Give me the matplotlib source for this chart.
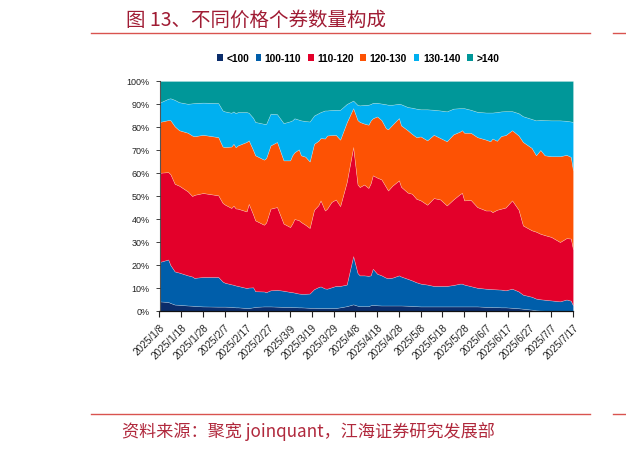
import matplotlib
matplotlib.use("Agg")
import matplotlib.pyplot as plt
from matplotlib.lines import Line2D
from matplotlib.ticker import FuncFormatter, MultipleLocator
import pandas as pd

# ---------------- data (share of bonds, %) ----------------
dates = ["2025-01-08", "2025-01-12", "2025-01-13", "2025-01-15", "2025-01-17", "2025-01-21",
         "2025-01-23", "2025-01-24", "2025-01-28", "2025-02-04", "2025-02-06", "2025-02-07",
         "2025-02-10", "2025-02-11", "2025-02-12", "2025-02-13", "2025-02-17", "2025-02-18",
         "2025-02-20", "2025-02-21", "2025-02-25", "2025-02-26", "2025-02-28", "2025-03-03",
         "2025-03-06", "2025-03-09", "2025-03-10", "2025-03-11", "2025-03-13", "2025-03-14",
         "2025-03-16", "2025-03-18", "2025-03-20", "2025-03-22", "2025-03-23", "2025-03-25",
         "2025-03-26", "2025-03-28", "2025-03-30", "2025-04-01", "2025-04-04", "2025-04-07",
         "2025-04-09", "2025-04-10", "2025-04-12", "2025-04-14", "2025-04-15", "2025-04-16",
         "2025-04-18", "2025-04-20", "2025-04-22", "2025-04-23", "2025-04-25", "2025-04-28",
         "2025-04-29", "2025-05-02", "2025-05-04", "2025-05-06", "2025-05-08", "2025-05-11",
         "2025-05-14", "2025-05-17", "2025-05-20", "2025-05-23", "2025-05-26", "2025-05-27",
         "2025-05-28", "2025-05-31", "2025-06-03", "2025-06-07", "2025-06-09", "2025-06-10",
         "2025-06-12", "2025-06-14", "2025-06-16", "2025-06-19", "2025-06-22", "2025-06-24",
         "2025-06-28", "2025-06-30", "2025-07-02", "2025-07-04", "2025-07-07", "2025-07-11",
         "2025-07-14", "2025-07-16", "2025-07-17"]

s_lt100 = [4.2, 3.9, 3.5, 2.8, 2.7, 2.4, 2.3, 2.2, 2.0, 1.9, 1.9, 1.9, 1.8, 1.7, 1.6, 1.6,
           1.3, 1.3, 1.6, 1.8, 2.0, 2.0, 2.0, 1.9, 1.8, 1.8, 1.7, 1.7, 1.6, 1.6, 1.5, 1.4,
           1.4, 1.3, 1.3, 1.3, 1.3, 1.3, 1.3, 1.6, 2.1, 2.9, 2.3, 2.1, 2.1, 2.1, 2.5, 2.7,
           2.5, 2.4, 2.4, 2.4, 2.4, 2.4, 2.4, 2.3, 2.2, 2.1, 2.0, 2.0, 2.0, 2.0, 2.0, 2.0,
           2.0, 2.0, 2.0, 2.0, 2.0, 1.8, 1.8, 1.7, 1.7, 1.6, 1.6, 1.4, 1.2, 1.0, 0.6, 0.3,
           0.2, 0.1, 0.0, 0.0, 0.0, 0.0, 0.0]
s_100_110 = [17.1, 18.5, 16.5, 14.4, 14.0, 13.1, 12.7, 12.2, 12.8, 12.9, 10.9, 10.4, 9.8, 9.7,
             9.5, 9.3, 8.7, 8.9, 8.7, 6.8, 6.5, 6.2, 7.0, 7.3, 7.0, 6.5, 6.5, 6.3, 6.0, 5.9,
             6.0, 6.2, 8.1, 9.1, 9.4, 8.5, 8.4, 9.0, 9.6, 9.3, 9.4, 21.0, 14.2, 13.4, 13.4,
             13.2, 13.0, 15.7, 13.7, 13.1, 12.1, 11.9, 12.1, 13.1, 12.6, 11.7, 11.1, 10.4,
             9.9, 9.5, 8.9, 8.9, 8.9, 9.3, 9.9, 9.9, 9.5, 8.8, 8.1, 7.9, 7.8, 7.8, 7.7, 7.7,
             7.4, 8.3, 7.3, 6.1, 5.6, 5.1, 4.9, 4.8, 4.6, 4.2, 5.0, 4.5, 2.4]
s_110_120 = [38.8, 38.0, 39.5, 38.1, 37.8, 36.5, 35.0, 36.1, 36.5, 35.5, 34.2, 34.0, 33.2, 34.4,
             33.5, 33.6, 33.3, 36.4, 31.7, 30.8, 29.0, 30.3, 35.5, 36.0, 29.2, 28.2, 29.8,
             32.0, 31.9, 31.2, 30.0, 28.5, 34.5, 35.6, 37.4, 33.9, 34.8, 37.1, 37.6, 34.7,
             44.5, 47.4, 38.5, 38.4, 39.5, 38.2, 40.0, 40.6, 41.8, 41.7, 39.5, 38.1, 40.0,
             41.3, 39.0, 37.5, 37.7, 36.3, 36.2, 34.7, 38.2, 37.6, 35.0, 37.2, 38.9, 39.5,
             36.6, 37.5, 35.1, 34.0, 34.1, 33.5, 34.6, 35.2, 36.0, 38.4, 35.5, 30.1, 28.9,
             29.1, 28.5, 28.1, 27.6, 25.8, 26.7, 27.0, 24.4]
s_120_130 = [22.1, 22.6, 23.5, 25.0, 24.1, 25.5, 26.3, 25.5, 25.3, 25.3, 24.5, 25.0, 26.7, 26.9,
             26.6, 27.5, 30.2, 27.6, 28.0, 28.3, 28.3, 28.0, 27.5, 28.3, 27.5, 29.0, 29.7,
             29.0, 30.8, 29.0, 29.6, 28.9, 28.7, 28.0, 27.1, 31.3, 31.8, 29.1, 28.1, 28.9,
             26.0, 16.9, 28.0, 28.3, 26.5, 27.5, 27.3, 24.8, 26.6, 25.8, 25.5, 26.6, 26.5,
             27.1, 26.7, 27.1, 26.0, 26.8, 27.8, 28.0, 27.5, 26.7, 27.9, 28.3, 27.2, 27.2,
             29.4, 29.2, 30.4, 30.8, 30.1, 32.0, 30.0, 31.6, 31.5, 30.5, 32.3, 36.3, 35.8,
             33.2, 36.4, 34.7, 35.1, 37.3, 36.2, 35.5, 34.3]
s_130_140 = [8.4, 9.3, 9.5, 11.5, 12.2, 12.6, 14.0, 14.4, 14.0, 14.8, 15.7, 15.5, 14.7, 14.1,
             14.8, 14.5, 13.0, 12.0, 14.0, 14.5, 15.6, 14.9, 13.8, 12.1, 16.2, 17.0, 15.2,
             14.8, 12.9, 15.2, 15.5, 17.4, 12.3, 12.0, 11.3, 12.2, 10.9, 10.9, 10.9, 13.0,
             8.0, 3.3, 6.6, 7.2, 8.1, 8.7, 7.2, 6.7, 5.9, 7.2, 10.4, 10.7, 8.7, 6.2, 9.2,
             10.1, 11.4, 12.4, 11.8, 13.5, 10.9, 12.0, 13.0, 11.2, 10.2, 9.6, 10.7, 10.0,
             11.0, 11.8, 12.5, 11.3, 12.5, 10.7, 10.4, 8.3, 9.7, 11.2, 12.6, 15.2, 13.1,
             15.3, 15.6, 15.6, 14.8, 15.4, 21.1]
s_gt140 = [9.4, 7.7, 7.5, 8.2, 9.2, 9.9, 9.7, 9.6, 9.4, 9.6, 12.8, 13.2, 13.8, 13.2, 14.0,
           13.5, 13.5, 13.8, 16.0, 17.8, 18.6, 18.6, 14.2, 14.4, 18.3, 17.5, 17.1, 16.2,
           16.8, 17.1, 17.4, 17.6, 15.0, 14.0, 13.5, 12.8, 12.8, 12.6, 12.5, 12.5, 10.0,
           8.5, 10.4, 10.6, 10.4, 10.3, 10.0, 9.5, 9.5, 9.8, 10.1, 10.3, 10.3, 9.9, 10.1,
           11.3, 11.6, 12.0, 12.3, 12.3, 12.5, 12.8, 13.2, 12.0, 11.8, 11.8, 11.8, 12.5,
           13.4, 13.7, 13.7, 13.7, 13.5, 13.2, 13.1, 13.1, 14.0, 15.3, 16.5, 17.1, 16.9,
           17.0, 17.1, 17.1, 17.3, 17.6, 17.8]

labels = ["<100", "100-110", "110-120", "120-130", "130-140", ">140"]
colors = ["#0b2d6b", "#005eaa", "#e3002a", "#fd5204", "#00b0f0", "#009799"]

title_text = "图 13、不同价格个券数量构成"
source_text = "资料来源：聚宽 joinquant，江海证券研究发展部"
tick_start = "2025-01-08"
tick_end = "2025-07-17"

# ---------------- figure ----------------
W, H = 626, 452
fig = plt.figure(figsize=(W / 100, H / 100), dpi=100)
fig.patch.set_facecolor("white")

ax = fig.add_axes([159.5 / W, 1 - 312 / H, (573 - 159.5) / W, (312 - 82) / H])

x = pd.to_datetime(dates)
series = [s_lt100, s_100_110, s_110_120, s_120_130, s_130_140, s_gt140]
polys = ax.stackplot(x, *series, colors=colors, labels=labels,
                     edgecolor=(1, 1, 1, 0.35), linewidth=0.4)

ax.set_xlim(pd.Timestamp(tick_start), pd.Timestamp(tick_end))
ax.set_ylim(0, 100)

tick_font = ["Liberation Sans", "DejaVu Sans"]
ticks = pd.date_range(tick_start, tick_end, freq="10D")
ax.set_xticks(ticks)
ax.set_xticklabels([f"{t.year}/{t.month}/{t.day}" for t in ticks],
                   rotation=45, ha="right", rotation_mode="anchor",
                   fontsize=7.2, family=tick_font, color="#222222")
ax.yaxis.set_major_locator(MultipleLocator(10))
ax.yaxis.set_major_formatter(FuncFormatter(lambda v, p: f"{int(round(v))}%"))
for lab in ax.get_yticklabels():
    lab.set_fontsize(6.5)
    lab.set_family(tick_font)
    lab.set_color("#222222")

ax.tick_params(axis="x", direction="out", length=4, width=0.8, pad=4, colors="#222222")
ax.tick_params(axis="y", direction="out", length=3, width=0.6, pad=4, colors="#222222")
for sp in ["top", "right"]:
    ax.spines[sp].set_visible(False)
ax.spines["bottom"].set_color("#111111")
ax.spines["bottom"].set_linewidth(0.9)
ax.spines["left"].set_color("#555555")
ax.spines["left"].set_linewidth(0.8)
ax.set_axisbelow(False)

# legend
leg = fig.legend(handles=polys, labels=labels, loc="center",
                 bbox_to_anchor=(358 / W, 1 - 59 / H), ncol=6, frameon=False,
                 handlelength=0.55, handleheight=0.7, handletextpad=0.35,
                 columnspacing=0.65, borderaxespad=0,
                 prop={"family": ["Liberation Sans Narrow", "Liberation Sans", "DejaVu Sans"],
                       "size": 7.4, "weight": "bold"})
for p in leg.get_patches():
    p.set_edgecolor("none")

# title and source
title_color = "#a01c34"
fig.text(126 / W, 1 - 20 / H, title_text, fontsize=14, color=title_color,
         family=["Noto Sans CJK SC", "DejaVu Sans"], va="center", ha="left")
fig.text(122 / W, 1 - 432 / H, source_text, fontsize=12.3, color="#b0283c",
         family=["Noto Sans CJK SC", "DejaVu Sans"], va="center", ha="left")

line_color = "#d9534f"
for yy in (34, 415):
    fig.add_artist(Line2D([91 / W, 590 / W], [1 - yy / H, 1 - yy / H],
                          transform=fig.transFigure, color=line_color, linewidth=1.0))
    fig.add_artist(Line2D([613 / W, 1.0], [1 - yy / H, 1 - yy / H],
                          transform=fig.transFigure, color=line_color, linewidth=1.0))

fig.savefig("out.png", dpi=100, facecolor="white")
